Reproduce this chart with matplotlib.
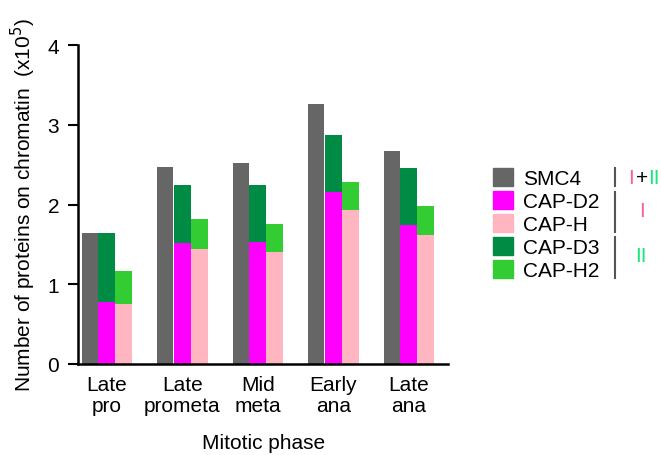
import numpy as np
import matplotlib.pyplot as plt
from matplotlib.patches import Patch
from matplotlib.lines import Line2D

plt.rcParams['font.family'] = ['Liberation Sans', 'DejaVu Sans']

phases = ['Late\npro', 'Late\nprometa', 'Mid\nmeta', 'Early\nana', 'Late\nana']
smc4 = [1.64, 2.47, 2.52, 3.26, 2.67]
cap_d2 = [0.78, 1.52, 1.53, 2.16, 1.74]
cap_d3 = [0.86, 0.73, 0.72, 0.71, 0.72]
cap_h = [0.75, 1.44, 1.41, 1.93, 1.62]
cap_h2 = [0.42, 0.38, 0.35, 0.35, 0.36]

c_smc4 = '#666666'
c_d2 = '#ff00ff'
c_h = '#ffb6c1'
c_d3 = '#008b45'
c_h2 = '#33cc33'

fig = plt.figure(figsize=(6.61, 4.56), dpi=100)
ax = fig.add_axes([0.118, 0.1996, 0.56, 0.6994])

x = np.arange(len(phases))
w = 0.225
ax.bar(x - w, smc4, w * 0.95, color=c_smc4)
ax.bar(x, cap_d2, w, color=c_d2)
ax.bar(x, cap_d3, w, bottom=cap_d2, color=c_d3)
ax.bar(x + w, cap_h, w, color=c_h)
ax.bar(x + w, cap_h2, w, bottom=cap_h, color=c_h2)

ax.set_xlim(-0.38, 4.52)
ax.set_ylim(0, 4)
ax.set_yticks([0, 1, 2, 3, 4])
ax.set_xticks(x)
ax.set_xticklabels(phases, fontsize=15, linespacing=1.1)
ax.tick_params(axis='x', length=0, pad=8)
ax.tick_params(axis='y', length=7, width=1.5, labelsize=15, pad=6.5)
for s in ['top', 'right']:
    ax.spines[s].set_visible(False)
for s in ['left', 'bottom']:
    ax.spines[s].set_linewidth(1.8)

ax.set_ylabel('Number of proteins on chromatin  (x10$^5$)', fontsize=15, labelpad=7)
ax.set_xlabel('Mitotic phase', fontsize=15, labelpad=13)

# legend
handles = [Patch(color=c) for c in [c_smc4, c_d2, c_h, c_d3, c_h2]]
labels = ['SMC4', 'CAP-D2', 'CAP-H', 'CAP-D3', 'CAP-H2']
fig.legend(handles, labels, loc='upper left', bbox_to_anchor=(0.7456, 0.63),
           frameon=False, fontsize=15, handlelength=0.95, handleheight=0.95,
           handletextpad=0.5, labelspacing=0.14, borderpad=0, borderaxespad=0)

# brackets
W, H = 661, 456
def vline(xp, y0, y1):
    fig.add_artist(Line2D([xp / W, xp / W], [1 - y0 / H, 1 - y1 / H],
                          color='#555555', lw=1.5))

vline(615, 169, 187)
vline(615, 193, 233)
vline(615, 238, 279)

pink = '#f5609f'
green = '#1ee67a'
fig.text(631 / W, 1 - 178 / H, 'I', color=pink, fontsize=15, ha='center', va='center')
fig.text(642 / W, 1 - 178 / H, '+', color='black', fontsize=15, ha='center', va='center')
fig.text(654 / W, 1 - 178 / H, 'II', color=green, fontsize=15, ha='center', va='center')
fig.text(642 / W, 1 - 212 / H, 'I', color=pink, fontsize=15, ha='center', va='center')
fig.text(641 / W, 1 - 257 / H, 'II', color=green, fontsize=15, ha='center', va='center')

plt.savefig('out.png', dpi=100)
